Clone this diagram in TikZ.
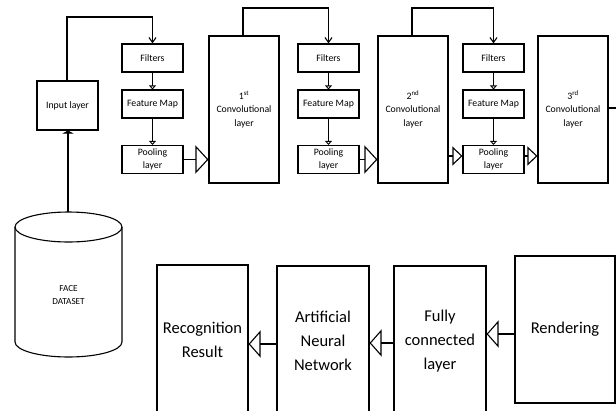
\documentclass[tikz,border=0pt]{standalone}
\usepackage{fontspec}
\setmainfont{Carlito}
\usetikzlibrary{arrows.meta}
\begin{document}
\begin{tikzpicture}[x=1pt,y=-1pt,line width=1.1pt,
  box/.style={draw,rectangle,inner sep=0pt,align=center,font=\fontsize{9.8}{13.5}\selectfont},
  sbox/.style={box,minimum width=61pt,minimum height=28pt},
  cbox/.style={box,minimum width=70pt,minimum height=147pt},
  bbox/.style={box,minimum width=92pt,minimum height=150pt,font=\fontsize{16.5}{24}\selectfont},
  bigtri/.style={-{Triangle[open,length=13pt,width=28pt,line width=1.1pt]}},
  midtri/.style={-{Triangle[open,length=10pt,width=19pt,line width=1.1pt]}},
  bottri/.style={-{Triangle[open,length=12pt,width=27pt,line width=1.1pt]}},
  fmtri/.style={-{Triangle[open,length=4pt,width=7pt,line width=0.9pt]}},
  barb/.style={-{Straight Barb[length=5pt,width=7pt]}},
  flat/.style={-{Triangle[length=3pt,width=11pt]}}
]
\useasboundingbox (0,0) rectangle (616,410);
\clip (0,0) rectangle (616,410);
% top row
\node[box,minimum width=61pt,minimum height=49pt] (input) at (67.5,105.5) {Input layer};
\node[sbox] (f1) at (152.5,58) {Filters};
\node[sbox] (m1) at (152.5,104) {Feature Map};
\node[sbox] (p1) at (152.5,159.5) {Pooling\\layer};
\node[cbox] (c1) at (244,109.5) {1\textsuperscript{st}\\Convolutional\\layer};
\node[sbox] (f2) at (328.5,58) {Filters};
\node[sbox] (m2) at (328.5,104) {Feature Map};
\node[sbox] (p2) at (328.5,159.5) {Pooling\\layer};
\node[cbox] (c2) at (413,109.5) {2\textsuperscript{nd}\\Convolutional\\layer};
\node[sbox] (f3) at (493.5,58) {Filters};
\node[sbox] (m3) at (493.5,104) {Feature Map};
\node[sbox] (p3) at (493.5,159.5) {Pooling\\layer};
\node[cbox] (c3) at (573,109.5) {3\textsuperscript{rd}\\Convolutional\\layer};
\coordinate (out) at (616,108);
% loops
\coordinate (l1) at (67,17);
\coordinate (l2) at (243,8);
\coordinate (l3) at (412,8);
\draw[barb] (l1 |- input.north) -- (l1) -- (l1 -| f1.north) -- (f1.north);
\draw[barb] (l2 |- c1.north) -- (l2) -- (l2 -| f2.north) -- (f2.north);
\draw[barb] (l3 |- c2.north) -- (l3) -- (l3 -| f3.north) -- (f3.north);
\draw[fmtri] (f1) -- (m1);
\draw[fmtri] (m1) -- (p1);
\draw[fmtri] (f2) -- (m2);
\draw[fmtri] (m2) -- (p2);
\draw[fmtri] (f3) -- (m3);
\draw[fmtri] (m3) -- (p3);
\draw[bigtri] (p1.east) -- (p1.east -| c1.west);
\draw[bigtri] (p2.east) -- (p2.east -| c2.west);
\coordinate (y3) at (0,156);
\draw[midtri] (c2.east |- y3) -- (p3.west |- y3);
\draw[midtri] (p3.east |- y3) -- (c3.west |- y3);
\draw (c3.east |- out) -- (out);
% dataset cylinder
\draw (68.5,227) ellipse [x radius=53.5, y radius=15];
\draw (15,227) -- (15,342) arc[start angle=180,end angle=0,x radius=53.5,y radius=15] -- (122,227);
\node[font=\fontsize{9.2}{13.5}\selectfont,align=center] (ds) at (68.5,295) {FACE\\DATASET};
\coordinate (dstop) at (68,212);
\draw[flat] (dstop) -- (dstop |- input.south);
% bottom row
\node[bbox,minimum width=91pt] (rec) at (202.5,340) {Recognition\\Result};
\node[bbox] (ann) at (323,341) {Artificial\\Neural\\Network};
\node[bbox] (fc) at (440,341) {Fully\\connected\\layer};
\node[bbox,minimum width=100pt,minimum height=147pt] (ren) at (565,329.5) {Rendering};
\coordinate (ya) at (0,334);
\coordinate (yb) at (0,343);
\coordinate (yc) at (0,344);
\draw[bottri] (ren.west |- ya) -- (fc.east |- ya);
\draw[bottri] (fc.west |- yb) -- (ann.east |- yb);
\draw[bottri] (ann.west |- yc) -- (rec.east |- yc);
\end{tikzpicture}
\end{document}
